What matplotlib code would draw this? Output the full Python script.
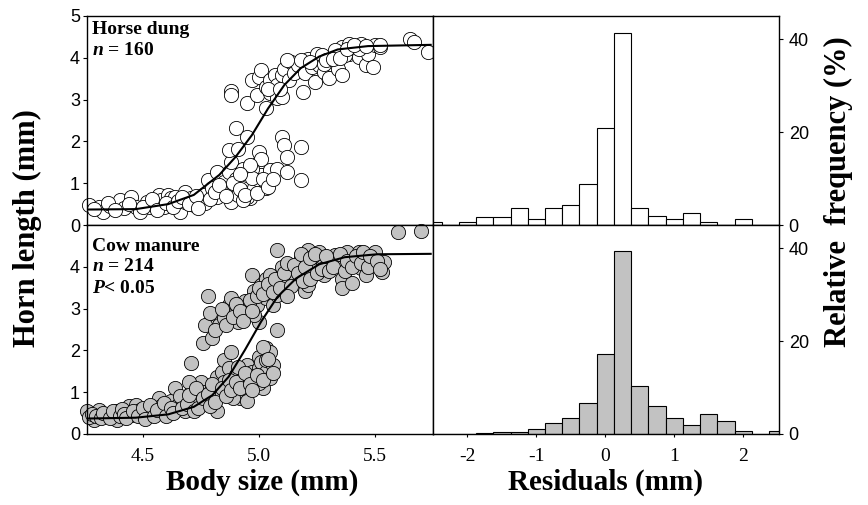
import numpy as np
import matplotlib
matplotlib.use("Agg")
import matplotlib.pyplot as plt

plt.rcParams['mathtext.fontset'] = 'custom'
plt.rcParams['mathtext.it'] = 'Liberation Serif:bold:italic'
plt.rcParams['mathtext.rm'] = 'Liberation Serif:bold'

# ---- scatter data: horse dung (body size, horn length) ----
horse_x = [4.27, 4.31, 4.33, 4.36, 4.40, 4.42, 4.45, 4.47, 4.49, 4.52, 4.53, 4.55, 4.57, 4.58,
           4.59, 4.61, 4.62, 4.64, 4.66, 4.68, 4.68, 4.71, 4.72, 4.75, 4.76, 4.77,
           4.78, 4.80, 4.82, 4.82, 4.84, 4.85, 4.87, 4.88, 4.88, 4.90, 4.90, 4.91, 4.93, 4.94,
           4.95, 4.96, 4.98, 4.98, 5.00, 5.00, 5.01, 5.03, 5.03, 5.05, 4.95, 4.93,
           4.90, 4.95, 4.87, 4.91, 5.00, 5.01, 5.10, 5.11, 5.12, 5.18, 5.08, 5.12, 5.18, 4.97,
           4.88, 4.88,
           4.95, 4.97, 4.99, 5.00, 5.01, 5.03, 5.03, 5.05, 5.05, 5.07, 5.08, 5.08, 5.10, 5.10,
           5.11, 5.13, 5.14, 5.15, 5.17, 5.19, 5.20, 5.21, 5.23, 5.24, 5.25, 5.26, 5.27, 5.28,
           5.30, 5.31, 5.33, 5.34, 5.36, 5.36, 5.39, 5.39, 5.41, 5.43, 5.44, 5.46, 5.47, 5.49,
           5.50, 5.52, 5.65, 5.67, 5.73, 5.33, 5.37, 5.28, 5.43,
           4.29, 4.35, 4.38, 4.44, 4.50, 4.54, 4.56, 4.60, 4.63, 4.65, 4.67, 4.70, 4.73, 4.74,
           4.79, 4.81, 4.83, 4.86, 4.89, 4.92, 4.94, 4.97, 4.99, 5.02, 5.04, 5.06, 4.96, 4.92,
           5.12, 5.18, 5.22, 5.29, 5.32, 5.35, 5.38, 5.41, 5.46, 5.52, 5.04, 5.09]
horse_y = [0.48, 0.44, 0.32, 0.46, 0.60, 0.40, 0.68, 0.44, 0.32, 0.56, 0.44, 0.48, 0.72, 0.60,
           0.44, 0.72, 0.64, 0.68, 0.32, 0.80, 0.56, 0.64, 0.48, 0.60, 0.72, 0.52,
           1.07, 0.88, 1.27, 0.68, 0.84, 1.04, 1.27, 1.51, 0.56, 0.80, 1.11, 0.72, 1.35, 0.96,
           1.20, 0.64, 1.27, 0.88, 1.07, 1.51, 1.20, 0.88, 1.00, 1.31, 0.68, 0.60,
           2.31, 2.11, 1.79, 1.83, 1.75, 1.59, 2.11, 1.91, 1.63, 1.87, 1.35, 1.27, 1.07, 1.35,
           3.20, 3.12,
           2.91, 3.47, 3.11, 3.55, 3.70, 2.79, 3.31, 3.47, 3.15, 3.59, 3.03, 3.35, 3.07, 3.59,
           3.74, 3.47, 3.90, 3.63, 3.82, 3.19, 3.63, 3.98, 3.78, 3.43, 4.10, 3.82, 4.06, 3.67,
           3.51, 3.86, 4.10, 3.74, 4.26, 3.59, 4.34, 4.10, 4.18, 4.02, 4.34, 3.82, 4.10, 3.78,
           4.30, 4.26, 4.46, 4.38, 4.14, 4.18, 4.06, 3.86, 4.22,
           0.38, 0.52, 0.36, 0.50, 0.42, 0.62, 0.36, 0.52, 0.42, 0.58, 0.66, 0.50, 0.70, 0.40,
           0.62, 0.78, 0.96, 0.70, 1.00, 0.86, 0.72, 1.12, 0.76, 1.10, 0.92, 1.10, 1.44, 1.22,
           3.95, 3.95, 3.90, 3.95, 3.96, 4.00, 4.20, 4.30, 4.28, 4.30, 3.25, 3.25]

# ---- scatter data: cow manure ----
cow_x = [5.60, 5.70,
         4.26, 4.31, 4.29, 4.35, 4.39, 4.39, 4.44, 4.47, 4.45, 4.49, 4.52, 4.54, 4.57, 4.58,
         4.61, 4.62, 4.64, 4.65, 4.68, 4.68, 4.71, 4.71, 4.74, 4.75, 4.76, 4.77, 4.80, 4.81,
         4.82, 4.70,
         4.83, 4.84, 4.85, 4.85, 4.87, 4.88, 4.89, 4.90, 4.91, 4.92, 4.93, 4.94, 4.95, 4.97,
         4.98, 5.00, 5.00, 5.01, 5.03, 5.03, 5.05, 5.05, 5.02, 4.89, 4.82,
         4.71,
         4.78, 4.77, 4.76, 4.80, 4.82, 4.83, 4.85, 4.87, 4.88, 4.90, 4.91, 4.93, 4.94, 4.95,
         4.97, 4.98, 4.99, 5.00, 5.01, 5.03, 5.03, 5.05, 5.06, 5.08, 5.08, 5.08, 5.10, 5.10,
         5.13, 5.14, 5.17, 5.18, 5.20, 5.21, 5.21, 5.23, 5.24, 5.26, 5.27, 5.28, 5.31, 5.34,
         5.36, 5.36, 5.38, 5.39, 5.40, 5.41, 5.43, 5.44, 5.46, 5.46, 5.49, 5.50, 5.53, 5.54,
         5.33, 5.23, 5.16, 5.05, 4.98,
         5.02, 5.03, 5.06, 5.00,
         4.27, 4.28, 4.30, 4.32, 4.33, 4.36, 4.37, 4.40, 4.41, 4.42, 4.43, 4.46, 4.48, 4.50,
         4.51, 4.53, 4.55, 4.56, 4.59, 4.60, 4.62, 4.63, 4.66, 4.67, 4.69, 4.70, 4.72, 4.73,
         4.74, 4.76, 4.78, 4.79, 4.80, 4.81,
         4.84, 4.86, 4.87, 4.88, 4.90, 4.91, 4.92, 4.94, 4.95, 4.96, 4.97, 4.99, 5.02, 5.04, 5.06,
         4.79, 4.81, 4.84, 4.86, 4.89, 4.90, 4.92, 4.93, 4.96, 4.97, 4.99, 5.00, 5.02, 5.04,
         5.06, 5.07, 5.09, 5.11, 5.12, 5.14, 5.15, 5.17, 5.18, 5.19, 5.20, 5.22, 5.22, 5.24,
         5.25, 5.27, 5.29, 5.30, 5.32, 5.35, 5.37, 5.38, 5.40, 5.42, 5.44, 5.45, 5.47, 5.48,
         5.51, 5.52, 5.12]
cow_y = [4.84, 4.86,
         0.54, 0.58, 0.34, 0.46, 0.54, 0.34, 0.66, 0.70, 0.46, 0.58, 0.42, 0.50, 0.86, 0.66,
         0.54, 0.78, 1.09, 0.70, 0.54, 0.86, 0.66, 1.01, 0.78, 1.25, 1.01, 0.74, 1.09, 0.90,
         1.37, 1.25,
         1.01, 1.49, 1.77, 1.25, 1.57, 1.97, 1.17, 1.41, 1.01, 0.86, 1.33, 1.09, 1.65, 1.49,
         1.25, 1.85, 1.57, 1.73, 2.05, 1.49, 1.33, 1.97, 1.09, 0.86, 0.54,
         1.69,
         3.29, 2.61, 2.17, 2.29, 2.85, 2.61, 2.77, 3.09, 3.25, 2.93, 2.69, 3.01, 3.17, 2.85,
         3.80, 3.41, 3.09, 2.69, 3.57, 3.72, 3.25, 3.49, 3.09, 3.33, 4.40, 2.49, 3.72, 4.00,
         3.65, 3.88, 4.00, 4.20, 3.41, 4.40, 3.57, 3.80, 3.96, 4.36, 4.16, 3.80, 4.04, 4.12,
         3.72, 3.49, 4.36, 4.04, 3.61, 4.12, 4.36, 3.96, 4.20, 3.80, 4.12, 4.36, 3.88, 4.12,
         4.28, 4.24, 3.72, 3.80, 2.85,
         2.09, 1.77, 1.65, 1.21,
         0.40, 0.48, 0.44, 0.38, 0.50, 0.38, 0.56, 0.42, 0.60, 0.48, 0.38, 0.56, 0.44, 0.62,
         0.36, 0.70, 0.44, 0.58, 0.74, 0.42, 0.62, 0.50, 0.90, 0.62, 0.72, 0.94, 0.56, 1.10,
         0.62, 0.86, 0.96, 0.68, 1.20, 0.76,
         1.10, 0.90, 1.30, 1.05, 1.25, 1.60, 1.10, 1.45, 0.80, 1.20, 1.05, 1.40, 1.30, 1.80, 1.45,
         2.90, 2.50, 3.00, 2.60, 2.80, 3.10, 2.95, 2.70, 3.20, 2.95, 3.30, 3.50, 3.35, 3.60,
         3.40, 3.70, 3.50, 3.85, 4.10, 3.55, 4.05, 3.85, 4.30, 3.65, 4.00, 4.20, 3.70, 4.30,
         3.85, 3.95, 4.25, 3.90, 4.00, 4.30, 3.90, 4.15, 4.00, 4.25, 4.10, 4.35, 4.00, 4.25,
         4.15, 3.95, 3.30]

# ---- fitted curves ----
horse_fit_x = [4.26, 4.47, 4.61, 4.72, 4.83, 4.90, 4.97, 5.04, 5.11, 5.18, 5.26, 5.34, 5.47, 5.74]
horse_fit_y = [0.37, 0.38, 0.50, 0.72, 1.20, 1.63, 2.15, 2.79, 3.35, 3.75, 4.03, 4.20, 4.28, 4.31]
cow_fit_x = [4.26, 4.47, 4.61, 4.72, 4.80, 4.87, 4.94, 5.01, 5.08, 5.16, 5.26, 5.37, 5.51, 5.74]
cow_fit_y = [0.37, 0.39, 0.47, 0.65, 0.93, 1.37, 2.01, 2.69, 3.28, 3.72, 4.06, 4.23, 4.30, 4.31]

# ---- residual histograms (%), bins of 0.25 mm ----
bin_centers = [-2.5, -2.25, -2.0, -1.75, -1.5, -1.25, -1.0, -0.75, -0.5, -0.25, 0.0, 0.25,
               0.5, 0.75, 1.0, 1.25, 1.5, 1.75, 2.0, 2.25, 2.5]
horse_freq = [0.6, 0.0, 0.6, 1.8, 1.8, 3.7, 1.2, 3.7, 4.4, 8.9, 20.9, 41.3,
              3.7, 1.9, 1.2, 2.6, 0.7, 0.0, 1.2, 0.0, 0.0]
cow_freq = [0.0, 0.0, 0.0, 0.2, 0.5, 0.5, 1.1, 2.4, 3.4, 6.7, 17.3, 39.5,
            10.4, 6.1, 3.4, 1.9, 4.3, 2.9, 0.7, 0.0, 0.6]

serif = 'Liberation Serif'
sans = 'Liberation Sans'
grey = '#c2c2c2'

fig = plt.figure(figsize=(8.68, 5.05), dpi=100)
W, H = 868.0, 505.0
ax_tl = fig.add_axes([87 / W, 1 - 225 / H, 346 / W, 209 / H])
ax_bl = fig.add_axes([87 / W, 1 - 434 / H, 346 / W, 209 / H])
ax_tr = fig.add_axes([433 / W, 1 - 225 / H, 346 / W, 209 / H])
ax_br = fig.add_axes([433 / W, 1 - 434 / H, 346 / W, 209 / H])

# scatter panels
for ax, xs, ys, fx, fy, fc in [(ax_tl, horse_x, horse_y, horse_fit_x, horse_fit_y, 'white'),
                               (ax_bl, cow_x, cow_y, cow_fit_x, cow_fit_y, grey)]:
    ax.scatter(xs, ys, s=105, facecolor=fc, edgecolor='black', linewidth=0.6, zorder=2,
               clip_on=False)
    ax.plot(fx, fy, color='black', linewidth=1.5, zorder=3)
    ax.set_xlim(4.26, 5.75)
    ax.set_ylim(0, 5)
    ax.tick_params(axis='y', direction='out', length=3, pad=2)
    for sp in ax.spines.values():
        sp.set_linewidth(1.0)

ax_tl.set_yticks([0, 1, 2, 3, 4, 5])
ax_tl.set_yticklabels(['0', '1', '2', '3', '4', '5'], family=sans, fontsize=13)
ax_tl.set_xticks([])
ax_bl.set_yticks([0, 1, 2, 3, 4])
ax_bl.set_yticklabels(['0', '1', '2', '3', '4'], family=sans, fontsize=13)
ax_bl.set_xticks([4.5, 5.0, 5.5])
ax_bl.set_xticklabels(['4.5', '5.0', '5.5'], family=serif, fontsize=14)
ax_bl.tick_params(axis='x', direction='out', length=2, pad=8)

ax_tl.text(0.015, 0.975, 'Horse dung', transform=ax_tl.transAxes, ha='left', va='top',
           family=serif, fontweight='bold', fontsize=14)
ax_tl.text(0.015, 0.875, r'$\mathit{n}$ = 160', transform=ax_tl.transAxes, ha='left', va='top',
           family=serif, fontweight='bold', fontsize=14)
ax_bl.text(0.015, 0.94, 'Cow manure', transform=ax_bl.transAxes, ha='left', va='top',
           family=serif, fontweight='bold', fontsize=14)
ax_bl.text(0.015, 0.84, r'$\mathit{n}$ = 214', transform=ax_bl.transAxes, ha='left', va='top',
           family=serif, fontweight='bold', fontsize=14)
ax_bl.text(0.015, 0.735, r'$\mathit{P}$< 0.05', transform=ax_bl.transAxes, ha='left', va='top',
           family=serif, fontweight='bold', fontsize=14)

# histogram panels
for ax, freq, fc in [(ax_tr, horse_freq, 'white'), (ax_br, cow_freq, grey)]:
    ax.bar(bin_centers, freq, width=0.25, facecolor=fc, edgecolor='black', linewidth=0.8)
    ax.set_xlim(-2.5, 2.52)
    ax.set_ylim(0, 45)
    ax.yaxis.tick_right()
    ax.set_yticks([0, 20, 40])
    ax.set_yticklabels(['0', '20', '40'], family=sans, fontsize=13)
    ax.tick_params(axis='y', direction='out', length=3, pad=4)
    for sp in ax.spines.values():
        sp.set_linewidth(1.0)

ax_tr.set_xticks([])
ax_br.set_xticks([-2, -1, 0, 1, 2])
ax_br.set_xticklabels(['-2', '-1', '0', '1', '2'], family=serif, fontsize=14)
ax_br.tick_params(axis='x', direction='out', length=2, pad=8)

# axis titles
fig.text(27 / W, 1 - 228 / H, 'Horn length (mm)', rotation=90, ha='center', va='center',
         family=serif, fontweight='bold', fontsize=22)
fig.text(262 / W, 1 - 482 / H, 'Body size (mm)', ha='center', va='center',
         family=serif, fontweight='bold', fontsize=21)
fig.text(606 / W, 1 - 482 / H, 'Residuals (mm)', ha='center', va='center',
         family=serif, fontweight='bold', fontsize=21)
fig.text(838 / W, 1 - 192 / H, 'Relative  frequency (%)', rotation=90, ha='center',
         va='center', family=serif, fontweight='bold', fontsize=22)

fig.savefig('out.png', dpi=100)
